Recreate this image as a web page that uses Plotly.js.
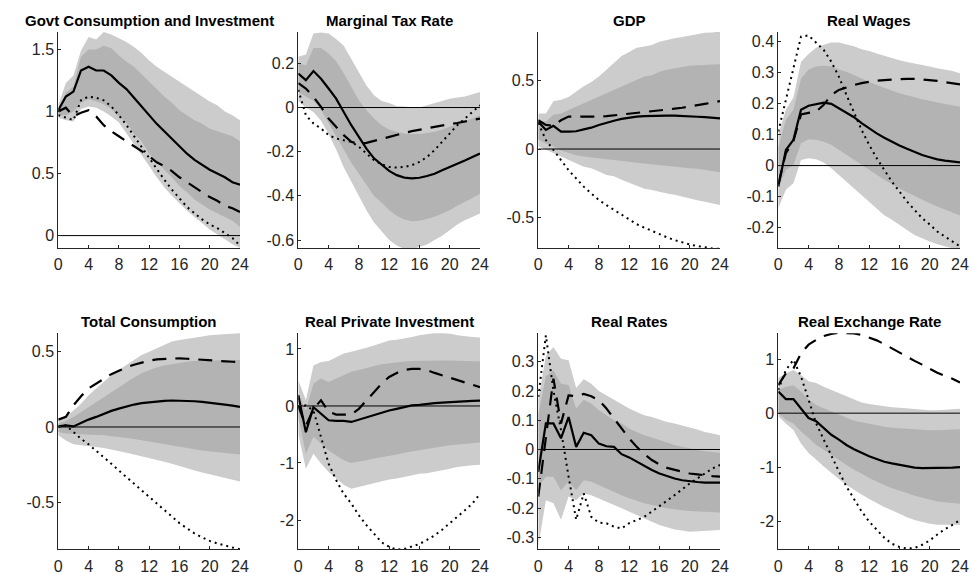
<!DOCTYPE html>
<html>
<head>
<meta charset="utf-8">
<script src="https://cdn.plot.ly/plotly-3.0.1.min.js"></script>
<style>html,body{margin:0;padding:0;background:#fff}#chart{width:972px;height:573px}</style>
</head>
<body>
<div id="chart"></div>
<script>
// Horizon (quarters)
const quarters = [0,1,2,3,4,5,6,7,8,9,10,11,12,13,14,15,16,17,18,19,20,21,22,23,24];
const xTicks = [0,4,8,12,16,20,24];

const titles = ["Govt Consumption and Investment","Marginal Tax Rate","GDP","Real Wages",
                "Total Consumption","Real Private Investment","Real Rates","Real Exchange Rate"];

// ---- Govt Consumption and Investment ----
const gov_outerHi = [1.05,1.23,1.29,1.49,1.60,1.58,1.64,1.62,1.59,1.56,1.52,1.47,1.41,1.36,1.32,1.28,1.24,1.20,1.16,1.12,1.08,1.05,1.00,0.97,0.93];
const gov_innerHi = [1.02,1.15,1.20,1.44,1.50,1.50,1.53,1.51,1.45,1.40,1.36,1.30,1.24,1.18,1.12,1.07,1.01,0.97,0.93,0.90,0.86,0.84,0.82,0.80,0.76];
const gov_innerLo = [0.97,0.97,1.00,1.07,1.10,1.08,1.06,1.02,0.96,0.91,0.82,0.76,0.66,0.60,0.53,0.47,0.40,0.35,0.29,0.25,0.21,0.18,0.15,0.12,0.07];
const gov_outerLo = [0.95,0.93,0.92,1.02,1.04,1.03,1.00,0.96,0.91,0.83,0.74,0.65,0.56,0.47,0.39,0.32,0.26,0.20,0.15,0.10,0.05,0.01,-0.03,-0.07,-0.10];
const gov_model = [1.01,1.12,1.16,1.33,1.36,1.33,1.33,1.29,1.23,1.18,1.11,1.04,0.97,0.90,0.84,0.78,0.72,0.66,0.61,0.57,0.53,0.50,0.47,0.43,0.41];
const gov_dashed = [1.00,1.03,0.96,0.99,1.01,0.96,0.89,0.84,0.80,0.76,0.72,0.68,0.64,0.59,0.56,0.52,0.47,0.43,0.39,0.35,0.31,0.28,0.24,0.22,0.19];
const gov_dotted = [0.97,0.95,0.93,1.09,1.12,1.11,1.09,1.04,0.97,0.89,0.80,0.72,0.62,0.53,0.45,0.37,0.30,0.23,0.18,0.13,0.09,0.06,0.02,-0.02,-0.08];

// ---- Marginal Tax Rate ----
const tax_outerHi = [0.23,0.24,0.335,0.34,0.335,0.31,0.28,0.22,0.16,0.10,0.056,0.03,0.02,0.006,0.005,0.0,0.0,0.01,0.02,0.03,0.04,0.045,0.05,0.06,0.07];
const tax_innerHi = [0.20,0.19,0.27,0.27,0.245,0.21,0.155,0.094,0.033,-0.012,-0.05,-0.08,-0.10,-0.11,-0.118,-0.12,-0.12,-0.115,-0.11,-0.10,-0.088,-0.075,-0.065,-0.05,-0.035];
const tax_innerLo = [0.07,0.05,0.03,-0.01,-0.07,-0.13,-0.19,-0.25,-0.30,-0.35,-0.40,-0.43,-0.465,-0.49,-0.507,-0.515,-0.513,-0.505,-0.495,-0.48,-0.465,-0.445,-0.427,-0.41,-0.39];
const tax_outerLo = [0.03,0.0,-0.02,-0.06,-0.12,-0.19,-0.27,-0.34,-0.40,-0.465,-0.52,-0.56,-0.60,-0.625,-0.64,-0.645,-0.63,-0.62,-0.60,-0.58,-0.555,-0.53,-0.51,-0.495,-0.48];
const tax_model = [0.154,0.124,0.165,0.13,0.086,0.04,-0.02,-0.08,-0.133,-0.186,-0.23,-0.26,-0.287,-0.306,-0.317,-0.321,-0.318,-0.31,-0.30,-0.284,-0.27,-0.254,-0.24,-0.224,-0.208];
const tax_dashed = [0.11,0.086,0.048,0.003,-0.05,-0.088,-0.125,-0.155,-0.166,-0.16,-0.151,-0.14,-0.13,-0.122,-0.115,-0.107,-0.10,-0.094,-0.088,-0.082,-0.075,-0.07,-0.063,-0.057,-0.05];
const tax_dotted = [0.08,-0.035,-0.072,-0.095,-0.125,-0.14,-0.148,-0.155,-0.178,-0.208,-0.238,-0.257,-0.269,-0.272,-0.269,-0.261,-0.246,-0.224,-0.193,-0.155,-0.118,-0.08,-0.05,-0.02,0.01];

// ---- GDP ----
const gdp_outerHi = [0.26,0.26,0.35,0.36,0.38,0.42,0.46,0.49,0.53,0.58,0.63,0.68,0.71,0.74,0.75,0.76,0.785,0.80,0.81,0.82,0.83,0.845,0.85,0.853,0.86];
const gdp_innerHi = [0.21,0.20,0.25,0.26,0.285,0.31,0.335,0.36,0.38,0.41,0.43,0.455,0.48,0.505,0.53,0.54,0.565,0.58,0.59,0.60,0.61,0.612,0.615,0.617,0.62];
const gdp_innerLo = [0.07,0.04,0.02,-0.01,-0.03,-0.045,-0.055,-0.06,-0.07,-0.075,-0.08,-0.085,-0.093,-0.10,-0.105,-0.11,-0.117,-0.122,-0.13,-0.135,-0.14,-0.145,-0.155,-0.16,-0.17];
const gdp_outerLo = [0.02,-0.01,-0.03,-0.055,-0.08,-0.105,-0.13,-0.14,-0.165,-0.19,-0.20,-0.225,-0.245,-0.27,-0.29,-0.30,-0.31,-0.325,-0.335,-0.35,-0.36,-0.375,-0.385,-0.395,-0.41];
const gdp_model = [0.20,0.14,0.17,0.127,0.127,0.13,0.144,0.156,0.176,0.193,0.207,0.22,0.23,0.237,0.241,0.244,0.245,0.245,0.244,0.243,0.239,0.236,0.233,0.23,0.224];
const gdp_dashed = [0.21,0.176,0.17,0.21,0.237,0.237,0.232,0.232,0.237,0.24,0.246,0.25,0.256,0.26,0.268,0.273,0.28,0.288,0.295,0.302,0.31,0.32,0.33,0.34,0.35];
const gdp_dotted = [0.19,0.066,-0.007,-0.08,-0.155,-0.215,-0.275,-0.325,-0.373,-0.41,-0.446,-0.483,-0.52,-0.55,-0.575,-0.60,-0.624,-0.646,-0.666,-0.683,-0.698,-0.71,-0.72,-0.727,-0.73];

// ---- Real Wages ----
const wag_outerHi = [0.10,0.18,0.22,0.335,0.36,0.38,0.39,0.397,0.397,0.39,0.385,0.375,0.37,0.362,0.354,0.346,0.34,0.334,0.33,0.325,0.32,0.314,0.31,0.305,0.298];
const wag_innerHi = [0.06,0.147,0.18,0.28,0.31,0.32,0.322,0.32,0.31,0.303,0.292,0.28,0.27,0.26,0.25,0.242,0.233,0.226,0.22,0.214,0.209,0.203,0.199,0.195,0.19];
const wag_innerLo = [-0.07,-0.014,0.002,0.072,0.085,0.083,0.077,0.067,0.05,0.034,0.018,0.002,-0.014,-0.03,-0.046,-0.06,-0.073,-0.086,-0.10,-0.11,-0.122,-0.132,-0.143,-0.152,-0.161];
const wag_outerLo = [-0.138,-0.078,-0.057,0.018,0.024,0.02,0.01,-0.009,-0.03,-0.052,-0.073,-0.095,-0.116,-0.138,-0.16,-0.175,-0.19,-0.208,-0.224,-0.234,-0.245,-0.254,-0.261,-0.267,-0.27];
const wag_model = [-0.068,0.05,0.083,0.18,0.193,0.198,0.203,0.199,0.185,0.172,0.156,0.137,0.12,0.104,0.09,0.077,0.065,0.054,0.043,0.034,0.027,0.02,0.016,0.012,0.01];
const wag_dashed = [-0.06,0.04,0.08,0.165,0.17,0.174,0.196,0.228,0.244,0.253,0.26,0.266,0.271,0.274,0.276,0.278,0.28,0.28,0.28,0.278,0.276,0.273,0.269,0.266,0.262];
const wag_dotted = [0.11,0.21,0.32,0.416,0.42,0.395,0.373,0.335,0.287,0.228,0.169,0.115,0.067,0.024,-0.014,-0.052,-0.084,-0.116,-0.143,-0.17,-0.19,-0.213,-0.229,-0.245,-0.261];

// ---- Total Consumption ----
const con_outerHi = [0.044,0.067,0.11,0.155,0.21,0.255,0.30,0.344,0.378,0.41,0.444,0.478,0.50,0.522,0.544,0.567,0.578,0.584,0.593,0.60,0.609,0.613,0.618,0.622,0.624];
const con_innerHi = [0.022,0.04,0.067,0.10,0.133,0.167,0.20,0.233,0.267,0.30,0.329,0.356,0.378,0.396,0.409,0.418,0.427,0.433,0.438,0.44,0.442,0.444,0.444,0.444,0.444];
const con_innerLo = [-0.033,-0.044,-0.049,-0.05,-0.05,-0.053,-0.055,-0.06,-0.067,-0.073,-0.08,-0.087,-0.093,-0.102,-0.111,-0.12,-0.129,-0.138,-0.147,-0.156,-0.162,-0.169,-0.173,-0.178,-0.182];
const con_outerLo = [-0.055,-0.089,-0.115,-0.122,-0.129,-0.133,-0.14,-0.149,-0.16,-0.171,-0.182,-0.193,-0.204,-0.218,-0.231,-0.244,-0.26,-0.273,-0.289,-0.302,-0.316,-0.329,-0.34,-0.351,-0.362];
const con_model = [0.004,0.011,0.004,0.027,0.049,0.067,0.089,0.107,0.122,0.138,0.149,0.158,0.164,0.169,0.173,0.176,0.176,0.173,0.171,0.167,0.162,0.156,0.149,0.142,0.133];
const con_dashed = [0.049,0.067,0.144,0.204,0.256,0.289,0.322,0.351,0.373,0.396,0.413,0.429,0.44,0.449,0.453,0.456,0.456,0.453,0.449,0.444,0.44,0.438,0.436,0.433,0.431];
const con_dotted = [0.0,0.01,-0.033,-0.078,-0.115,-0.156,-0.20,-0.244,-0.289,-0.333,-0.378,-0.422,-0.467,-0.511,-0.556,-0.60,-0.638,-0.673,-0.707,-0.733,-0.756,-0.773,-0.789,-0.80,-0.811];

// ---- Real Private Investment ----
const inv_outerHi = [0.45,0.10,0.71,0.77,0.79,0.86,0.92,0.95,0.98,1.02,1.06,1.10,1.15,1.16,1.18,1.21,1.24,1.26,1.28,1.28,1.27,1.24,1.22,1.21,1.20];
const inv_innerHi = [0.22,-0.08,0.39,0.48,0.42,0.48,0.54,0.60,0.63,0.67,0.70,0.73,0.75,0.77,0.78,0.79,0.795,0.80,0.80,0.80,0.80,0.795,0.79,0.79,0.78];
const inv_innerLo = [-0.19,-0.84,-0.54,-0.66,-0.78,-0.87,-0.95,-1.00,-0.98,-0.95,-0.92,-0.89,-0.87,-0.85,-0.82,-0.80,-0.78,-0.75,-0.73,-0.71,-0.69,-0.68,-0.66,-0.65,-0.64];
const inv_outerLo = [-0.49,-1.10,-0.84,-1.01,-1.16,-1.27,-1.38,-1.45,-1.42,-1.39,-1.35,-1.32,-1.29,-1.27,-1.25,-1.22,-1.19,-1.18,-1.16,-1.13,-1.10,-1.07,-1.05,-1.04,-1.03];
const inv_model = [0.19,-0.46,-0.02,-0.13,-0.25,-0.26,-0.26,-0.28,-0.24,-0.19,-0.15,-0.11,-0.08,-0.05,-0.02,0.01,0.02,0.04,0.05,0.06,0.07,0.076,0.08,0.088,0.094];
const inv_dashed = [0.0,-0.35,-0.05,0.10,-0.10,-0.15,-0.15,-0.15,-0.05,0.10,0.25,0.39,0.51,0.58,0.63,0.65,0.65,0.63,0.58,0.54,0.50,0.45,0.41,0.37,0.33];
const inv_dotted = [-0.02,0.01,-0.08,-0.54,-1.01,-1.30,-1.54,-1.71,-1.92,-2.09,-2.24,-2.39,-2.47,-2.52,-2.51,-2.47,-2.42,-2.35,-2.27,-2.17,-2.06,-1.95,-1.83,-1.71,-1.54];

// ---- Real Rates ----
const rr_outerHi = [0.17,0.32,0.35,0.31,0.305,0.21,0.24,0.225,0.20,0.185,0.17,0.157,0.14,0.128,0.117,0.111,0.102,0.094,0.089,0.083,0.075,0.068,0.06,0.055,0.049];
const rr_innerHi = [0.12,0.25,0.27,0.225,0.22,0.14,0.17,0.157,0.134,0.117,0.10,0.089,0.072,0.06,0.049,0.041,0.032,0.023,0.015,0.009,0.003,-0.002,-0.006,-0.009,-0.011];
const rr_innerLo = [-0.127,-0.093,-0.093,-0.139,-0.11,-0.139,-0.105,-0.11,-0.122,-0.133,-0.144,-0.156,-0.167,-0.175,-0.184,-0.19,-0.195,-0.201,-0.205,-0.208,-0.21,-0.212,-0.214,-0.214,-0.215];
const rr_outerLo = [-0.33,-0.173,-0.184,-0.24,-0.161,-0.173,-0.15,-0.156,-0.167,-0.178,-0.19,-0.201,-0.212,-0.224,-0.235,-0.247,-0.258,-0.266,-0.273,-0.277,-0.281,-0.281,-0.278,-0.277,-0.275];
const rr_model = [-0.076,0.089,0.089,0.038,0.111,0.009,0.057,0.049,0.02,0.011,0.009,-0.016,-0.027,-0.042,-0.057,-0.07,-0.082,-0.091,-0.099,-0.105,-0.109,-0.111,-0.113,-0.113,-0.113];
const rr_dashed = [-0.161,0.05,0.242,0.089,0.185,0.182,0.19,0.182,0.168,0.14,0.106,0.072,0.038,0.009,-0.016,-0.036,-0.051,-0.063,-0.07,-0.076,-0.082,-0.085,-0.089,-0.091,-0.093];
const rr_dotted = [0.18,0.39,0.20,0.066,-0.093,-0.24,-0.15,-0.23,-0.25,-0.252,-0.264,-0.27,-0.252,-0.24,-0.23,-0.212,-0.195,-0.175,-0.156,-0.135,-0.116,-0.099,-0.082,-0.065,-0.053];

// ---- Real Exchange Rate ----
const rer_outerHi = [0.65,0.74,0.80,0.71,0.59,0.56,0.49,0.43,0.37,0.31,0.25,0.20,0.17,0.15,0.12,0.11,0.10,0.086,0.074,0.062,0.056,0.056,0.062,0.074,0.08];
const rer_innerHi = [0.43,0.49,0.52,0.40,0.25,0.15,0.09,0.03,-0.03,-0.09,-0.14,-0.17,-0.20,-0.23,-0.25,-0.27,-0.28,-0.29,-0.30,-0.31,-0.315,-0.315,-0.31,-0.30,-0.30];
const rer_innerLo = [0.0,-0.12,-0.19,-0.34,-0.46,-0.59,-0.68,-0.77,-0.86,-0.96,-1.05,-1.12,-1.20,-1.27,-1.33,-1.39,-1.44,-1.48,-1.53,-1.57,-1.60,-1.64,-1.65,-1.67,-1.68];
const rer_outerLo = [-0.06,-0.19,-0.31,-0.56,-0.74,-0.86,-0.99,-1.11,-1.22,-1.33,-1.42,-1.51,-1.59,-1.67,-1.74,-1.80,-1.86,-1.93,-1.98,-2.02,-2.05,-2.07,-2.07,-2.07,-2.07];
const rer_model = [0.40,0.26,0.26,0.09,-0.09,-0.15,-0.28,-0.40,-0.49,-0.59,-0.67,-0.74,-0.80,-0.85,-0.90,-0.93,-0.96,-0.99,-1.01,-1.02,-1.02,-1.02,-1.02,-1.01,-1.00];
const rer_dashed = [0.52,0.74,0.83,1.11,1.27,1.36,1.43,1.47,1.49,1.49,1.48,1.45,1.40,1.35,1.28,1.20,1.12,1.05,0.97,0.90,0.82,0.75,0.69,0.64,0.57];
const rer_dotted = [0.43,0.80,0.99,0.68,0.25,-0.19,-0.49,-0.80,-1.08,-1.36,-1.60,-1.82,-2.01,-2.16,-2.31,-2.42,-2.48,-2.51,-2.50,-2.44,-2.36,-2.25,-2.15,-2.07,-1.98];

// Axis ranges
const yRanges = [[-0.1,1.64],[-0.636,0.342],[-0.724,0.856],[-0.266,0.431],
                 [-0.812,0.622],[-2.514,1.275],[-0.341,0.397],[-2.524,1.481]];
const yTicks = [[0,0.5,1,1.5],[-0.6,-0.4,-0.2,0,0.2],[-0.5,0,0.5],[-0.2,-0.1,0,0.1,0.2,0.3,0.4],
                [-0.5,0,0.5],[-2,-1,0,1],[-0.3,-0.2,-0.1,0,0.1,0.2,0.3],[-2,-1,0,1]];

const panels = [
  [gov_outerLo,gov_outerHi,gov_innerLo,gov_innerHi,gov_model,gov_dashed,gov_dotted],
  [tax_outerLo,tax_outerHi,tax_innerLo,tax_innerHi,tax_model,tax_dashed,tax_dotted],
  [gdp_outerLo,gdp_outerHi,gdp_innerLo,gdp_innerHi,gdp_model,gdp_dashed,gdp_dotted],
  [wag_outerLo,wag_outerHi,wag_innerLo,wag_innerHi,wag_model,wag_dashed,wag_dotted],
  [con_outerLo,con_outerHi,con_innerLo,con_innerHi,con_model,con_dashed,con_dotted],
  [inv_outerLo,inv_outerHi,inv_innerLo,inv_innerHi,inv_model,inv_dashed,inv_dotted],
  [rr_outerLo,rr_outerHi,rr_innerLo,rr_innerHi,rr_model,rr_dashed,rr_dotted],
  [rer_outerLo,rer_outerHi,rer_innerLo,rer_innerHi,rer_model,rer_dashed,rer_dotted]
];

const W = 972, H = 573;
const colLeft = [58.3, 298.3, 538.3, 778.3];
const plotW = 181.7;
const rowTop = [32, 333.3];
const plotH = 216;

const traces = [];
const layout = {
  width: W, height: H,
  margin: {l:0,r:0,t:0,b:0},
  paper_bgcolor: '#ffffff', plot_bgcolor: 'rgba(0,0,0,0)',
  showlegend: false,
  font: {family: 'Liberation Sans, Arial, sans-serif', color: '#262626'},
  annotations: []
};

const xBand = quarters.concat(quarters.slice().reverse());

panels.forEach((p, i) => {
  const r = Math.floor(i/4), c = i % 4;
  const n = i + 1;
  const xa = 'x' + (n === 1 ? '' : n), ya = 'y' + (n === 1 ? '' : n);
  const [oLo, oHi, iLo, iHi, model, dashed, dotted] = p;
  traces.push({x: xBand, y: oHi.concat(oLo.slice().reverse()), xaxis: xa, yaxis: ya,
    type:'scatter', mode:'lines', fill:'toself', fillcolor:'#cccccc', line:{width:0, color:'#cccccc'}, hoverinfo:'skip'});
  traces.push({x: xBand, y: iHi.concat(iLo.slice().reverse()), xaxis: xa, yaxis: ya,
    type:'scatter', mode:'lines', fill:'toself', fillcolor:'#b3b3b3', line:{width:0, color:'#b3b3b3'}, hoverinfo:'skip'});
  traces.push({x: [quarters[0], quarters[quarters.length-1]], y: [0,0], xaxis: xa, yaxis: ya,
    type:'scatter', mode:'lines', line:{color:'#000', width:1}});
  traces.push({x: quarters, y: dotted, xaxis: xa, yaxis: ya, type:'scatter', mode:'lines',
    line:{color:'#000', width:2, dash:'2px,4px'}});
  traces.push({x: quarters, y: dashed, xaxis: xa, yaxis: ya, type:'scatter', mode:'lines',
    line:{color:'#000', width:2.2, dash:'14px,9px'}});
  traces.push({x: quarters, y: model, xaxis: xa, yaxis: ya, type:'scatter', mode:'lines',
    line:{color:'#000', width:2.2}});

  const x0 = colLeft[c]/W, x1 = (colLeft[c]+plotW)/W;
  const yTop = 1 - rowTop[r]/H, yBot = 1 - (rowTop[r]+plotH)/H;
  const axKey = 'xaxis' + (n === 1 ? '' : n), ayKey = 'yaxis' + (n === 1 ? '' : n);
  layout[axKey] = {domain:[x0,x1], anchor: ya, range:[0,24], tickvals: xTicks, ticktext: xTicks.map(String),
    showline:true, linecolor:'#262626', linewidth:1, ticks:'inside', ticklen:3, tickcolor:'#262626',
    showgrid:false, zeroline:false, tickfont:{size:16, color:'#262626'}, ticklabelstandoff:2, fixedrange:true};
  layout[ayKey] = {domain:[yBot,yTop], anchor: xa, range: yRanges[i], tickvals: yTicks[i], ticktext: yTicks[i].map(String),
    showline:true, linecolor:'#262626', linewidth:1, ticks:'inside', ticklen:3, tickcolor:'#262626',
    showgrid:false, zeroline:false, tickfont:{size:16, color:'#262626'}, fixedrange:true};
  layout.annotations.push({text: '<b>' + titles[i] + '</b>', xref:'paper', yref:'paper',
    x:(x0+x1)/2, y: 1 - (rowTop[r]-12)/H, xanchor:'center', yanchor:'middle', showarrow:false,
    font:{size:15, color:'#000', family:'Liberation Sans, Arial, sans-serif'}});
});

Plotly.newPlot('chart', traces, layout, {staticPlot:true, displayModeBar:false});
</script>
</body>
</html>
